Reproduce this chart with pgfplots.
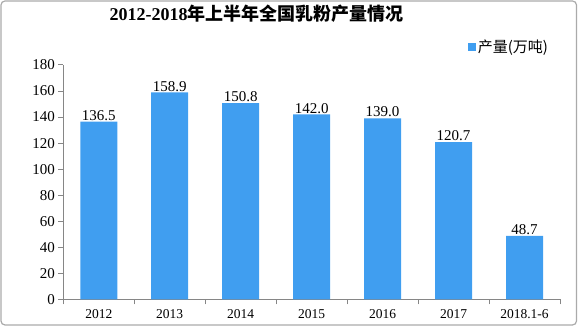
\documentclass[border=0pt]{standalone}
\usepackage{pgfplots}
\pgfplotsset{compat=1.18}
\usepackage{fontspec}
\setmainfont{Liberation Serif}
\newfontfamily\cjk{Noto Sans CJK SC}
\definecolor{barblue}{RGB}{64,158,240}
\definecolor{axgray}{RGB}{134,134,134}
\definecolor{bordergray}{RGB}{170,170,170}
\begin{document}
\begin{tikzpicture}
\path[use as bounding box] (0pt,0pt) rectangle (578pt,328pt);
\draw[bordergray, line width=1.2pt, rounded corners=4pt] (1pt,3pt) rectangle (576.5pt,327pt);
\node[anchor=base, font=\fontsize{18}{20}\selectfont\bfseries] at (256.7pt,307.3pt) {2012-2018{\cjk 年上半年全国乳粉产量情况}};
\begin{axis}[
  at={(63.3pt,28.7pt)}, anchor=origin,
  scale only axis, width=496.7pt, height=234.3pt,
  ymin=0, ymax=180, ytick={0,20,...,180},
  xmin=0, xmax=7,
  xtick={0.5,1.5,...,6.5},
  xticklabels={2012,2013,2014,2015,2016,2017,2018.1-6},
  minor xtick={0,1,...,7},
  axis x line*=bottom, axis y line*=left,
  axis line style={axgray, line width=1pt, -},
  tick align=outside,
  major tick length=5pt, minor tick length=5pt,
  major x tick style={draw=none},
  minor x tick style={axgray, line width=1pt},
  major y tick style={axgray, line width=1pt},
  yticklabel style={font=\fontsize{15}{17}\selectfont},
  xticklabel style={font=\fontsize{13.5}{15}\selectfont, yshift=-2pt},
  /pgf/number format/assume math mode=true,
  ybar, bar width=37pt,
  nodes near coords={\pgfmathprintnumber[fixed,fixed zerofill,precision=1]{\pgfplotspointmeta}},
  nodes near coords style={font=\fontsize{15}{17}\selectfont, inner sep=1pt, anchor=south},
  legend style={draw=none, fill=none, at={(0.815,1.077)}, anchor=west, inner sep=0pt,
    font=\fontsize{15}{17}\selectfont\cjk},
  legend image code/.code={\fill[barblue] (0pt,-3.75pt) rectangle (7.5pt,3.75pt);},
  clip=false,
]
\addplot[fill=barblue, draw=none] coordinates {(0.5,136.5) (1.5,158.9) (2.5,150.8) (3.5,142.0) (4.5,139.0) (5.5,120.7) (6.5,48.7)};
\addlegendentry{产量(万吨)}
\end{axis}
\end{tikzpicture}
\end{document}
